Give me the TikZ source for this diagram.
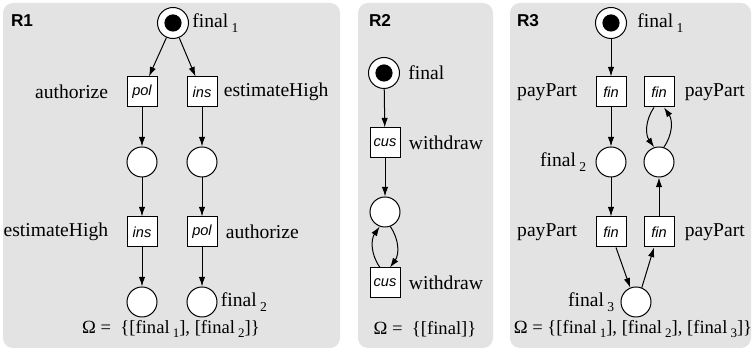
\documentclass[tikz,border=0pt]{standalone}
\usepackage{fontspec}
\setmainfont{Liberation Serif}
\setsansfont{Liberation Sans}
\usetikzlibrary{arrows.meta,positioning}
\newcommand\sbs[1]{\,\raisebox{-2.2pt}{\fontsize{6.8}{7}\selectfont#1}}
\newcommand\osb[1]{\raisebox{-2pt}{\fontsize{6.5}{7}\selectfont#1}}
\tikzset{
 panel/.style={fill=black!11, draw=none, rounded corners=5pt},
 place/.style={circle, draw, fill=white, line width=0.5pt, minimum size=15pt, inner sep=0pt},
 tokplace/.style={place, minimum size=15.5pt, path picture={\fill[black] (path picture bounding box.center) circle (4.3pt);}},
 trans/.style={rectangle, draw, fill=white, line width=0.5pt, minimum size=15pt, inner sep=0pt, font=\sffamily\itshape\fontsize{7.3}{8}\selectfont},
 lbl/.style={inner sep=0pt, font=\fontsize{9.8}{11}\selectfont},
 omg/.style={inner sep=0pt, font=\fontsize{9.3}{11}\selectfont},
 title/.style={inner sep=0pt, font=\sffamily\bfseries\fontsize{8.6}{10}\selectfont},
 arc/.style={-{Latex[length=4.8pt,width=3.2pt]}, line width=0.5pt},
}
\begin{document}
\begin{tikzpicture}[x=0.5pt,y=-0.5pt]
\useasboundingbox (0,0) rectangle (752,351);
% panels
\fill[panel] (3,3) rectangle (340,348);
\fill[panel] (358,3) rectangle (493,348);
\fill[panel] (510,3) rectangle (751,348);
% R1
\node[title] (r1) at (22,21) {R1};
\node[tokplace] (a0) at (173,23) {};
\node[trans] (a1) at (142,92) {pol};
\node[trans] (a2) at (202,92) {ins};
\node[place] (a3) at (142,162) {};
\node[place] (a4) at (202,162) {};
\node[trans] (a5) at (142,232) {ins};
\node[trans] (a6) at (202,232) {pol};
\node[place] (a7) at (142,302) {};
\node[place] (a8) at (202,302) {};
\node[lbl, right=1.5pt of a0] (la0) {final\sbs1};
\node[lbl, left=9pt of a1] (la1) {authorize};
\node[lbl, right=3pt of a2] (la2) {estimateHigh};
\node[lbl, left=9pt of a5] (la5) {estimateHigh};
\node[lbl, right=4pt of a6] (la6) {authorize};
\node[lbl, right=1.5pt of a8] (la8) {final\sbs2};
\node[omg] (om1) at (171,329) {Ω =\ \ \{[final\,\osb1], [final\,\osb2]\}};
\draw[arc] (a0) -- (a1);
\draw[arc] (a0) -- (a2);
\draw[arc] (a1) -- (a3);
\draw[arc] (a2) -- (a4);
\draw[arc] (a3) -- (a5);
\draw[arc] (a4) -- (a6);
\draw[arc] (a5) -- (a7);
\draw[arc] (a6) -- (a8);
% R2
\node[title] (r2) at (380,21) {R2};
\node[tokplace] (b0) at (384,73) {};
\node[trans] (b1) at (385,143) {cus};
\node[place] (b2) at (385,212) {};
\node[trans] (b3) at (385,283) {cus};
\node[lbl, right=4pt of b0] (lb0) {final};
\node[lbl, right=4pt of b1] (lb1) {withdraw};
\node[lbl, right=4pt of b3] (lb3) {withdraw};
\node[omg] (om2) at (425,329) {Ω =\ \ \{[final]\}};
\draw[arc] (b0) -- (b1);
\draw[arc] (b1) -- (b2);
\draw[arc] ([xshift=-2.5pt]b3.north) to[bend left=35] (b2.250);
\draw[arc] (b2.290) to[bend left=35] ([xshift=2.5pt]b3.north);
% R3
\node[title] (r3) at (528,21) {R3};
\node[tokplace] (c0) at (611,23) {};
\node[trans] (c1) at (611,92) {fin};
\node[trans] (c2) at (659,92) {fin};
\node[place] (c3) at (611,162) {};
\node[place] (c4) at (659,162) {};
\node[trans] (c5) at (611,232) {fin};
\node[trans] (c6) at (659,232) {fin};
\node[place] (c7) at (636,302) {};
\node[lbl, right=5pt of c0] (lc0) {final\sbs1};
\node[lbl, left=9pt of c1] (lc1) {payPart};
\node[lbl, right=5pt of c2] (lc2) {payPart};
\node[lbl, left=4.5pt of c3] (lc3) {final\sbs2};
\node[lbl, left=9pt of c5] (lc5) {payPart};
\node[lbl, right=5pt of c6] (lc6) {payPart};
\node[lbl, left=3pt of c7] (lc7) {final\sbs3};
\node[omg] (om3) at (633,329) {Ω =\ \{[final\,\osb1], [final\,\osb2], [final\,\osb3]\}};
\draw[arc] (c0) -- (c1);
\draw[arc] (c1) -- (c3);
\draw[arc] (c3) -- (c5);
\draw[arc] ([xshift=2.5pt]c5.south) -- (c7.112);
\draw[arc] (c7.68) -- ([xshift=-2.5pt]c6.south);
\draw[arc] (c6) -- (c4);
\draw[arc] ([xshift=-2.5pt]c2.south) to[bend right=35] (c4.108);
\draw[arc] (c4.72) to[bend right=35] ([xshift=2.5pt]c2.south);
\end{tikzpicture}
\end{document}
